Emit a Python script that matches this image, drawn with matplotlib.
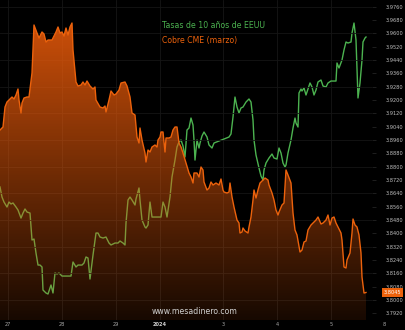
import numpy as np
import matplotlib.pyplot as plt
from matplotlib.transforms import blended_transform_factory

# Cobre CME (marzo), USD/lb  -- posicion en barras intradia
barras_cobre = [0, 3, 5, 7, 9, 12, 14, 16, 18, 19, 21, 22, 24, 27, 29, 32, 34, 37, 39, 42,
                44, 46, 48, 52, 54, 56, 58, 60, 62, 64, 66, 68, 70, 72, 73, 76, 78, 81, 83, 85,
                87, 90, 93, 95, 96, 100, 103, 105, 106, 109, 111, 114, 116, 119, 121, 125, 127, 130, 132, 135,
                137, 139, 140, 142, 145, 146, 148, 150, 152, 155, 157, 158, 160, 161, 163, 165, 166, 169, 171, 173,
                175, 177, 179, 181, 183, 186, 188, 189, 191, 193, 194, 197, 199, 201, 203, 204, 207, 209, 211, 213,
                216, 219, 221, 223, 224, 227, 229, 230, 232, 234, 237, 239, 240, 242, 243, 245, 248, 249, 251, 253,
                254, 256, 258, 260, 263, 265, 268, 269, 272, 274, 276, 278, 279, 282, 284, 286, 288, 291, 293, 295,
                297, 300, 302, 304, 306, 308, 311, 314, 316, 318, 321, 323, 326, 328, 330, 332, 334, 336, 338, 341,
                342, 344, 346, 347, 350, 352, 353, 355, 357, 359, 361, 362, 364, 366]
cobre = [3.9020, 3.9038, 3.9158, 3.9188, 3.9200, 3.9218, 3.9206, 3.9230, 3.9266, 3.9200,
         3.9122, 3.9182, 3.9212, 3.9218, 3.9218, 3.9362, 3.9650, 3.9602, 3.9572, 3.9608,
         3.9596, 3.9548, 3.9560, 3.9560, 3.9584, 3.9608, 3.9638, 3.9602, 3.9608, 3.9584,
         3.9632, 3.9590, 3.9638, 3.9662, 3.9500, 3.9308, 3.9284, 3.9290, 3.9308, 3.9290,
         3.9314, 3.9284, 3.9266, 3.9278, 3.9200, 3.9158, 3.9152, 3.9164, 3.9128, 3.9200,
         3.9254, 3.9230, 3.9236, 3.9260, 3.9302, 3.9308, 3.9284, 3.9218, 3.9122, 3.9110,
         3.8978, 3.8942, 3.9032, 3.8960, 3.8882, 3.8828, 3.8900, 3.8888, 3.8918, 3.8930,
         3.8918, 3.8960, 3.8978, 3.9008, 3.9008, 3.8888, 3.8972, 3.8972, 3.8978, 3.9020,
         3.9038, 3.9038, 3.8942, 3.8918, 3.8882, 3.8822, 3.8780, 3.8762, 3.8738, 3.8702,
         3.8762, 3.8762, 3.8738, 3.8798, 3.8780, 3.8708, 3.8660, 3.8672, 3.8708, 3.8690,
         3.8702, 3.8690, 3.8726, 3.8660, 3.8648, 3.8642, 3.8648, 3.8702, 3.8618, 3.8558,
         3.8480, 3.8462, 3.8402, 3.8408, 3.8432, 3.8414, 3.8402, 3.8438, 3.8498, 3.8600,
         3.8660, 3.8612, 3.8660, 3.8702, 3.8720, 3.8732, 3.8720, 3.8690, 3.8642, 3.8600,
         3.8540, 3.8510, 3.8528, 3.8570, 3.8582, 3.8780, 3.8750, 3.8702, 3.8522, 3.8420,
         3.8390, 3.8288, 3.8300, 3.8348, 3.8354, 3.8420, 3.8450, 3.8468, 3.8480, 3.8498,
         3.8456, 3.8462, 3.8480, 3.8510, 3.8450, 3.8492, 3.8498, 3.8462, 3.8438, 3.8402,
         3.8360, 3.8198, 3.8192, 3.8240, 3.8282, 3.8402, 3.8486, 3.8450, 3.8438, 3.8390,
         3.8282, 3.8138, 3.8042, 3.8045]

# Tasas de 10 anios de EEUU, %
barras_tasas = [0, 2, 4, 7, 9, 11, 13, 16, 18, 21, 23, 25, 27, 30, 32, 34, 36, 38, 40, 42,
                43, 46, 48, 51, 53, 55, 57, 59, 62, 65, 68, 71, 73, 76, 78, 82, 84, 86, 88, 90,
                93, 96, 98, 100, 103, 106, 109, 111, 115, 118, 120, 123, 125, 126, 128, 130, 132, 135, 136, 139,
                140, 142, 145, 146, 148, 150, 152, 156, 159, 161, 163, 165, 167, 170, 172, 175, 177, 179, 181, 183,
                185, 187, 189, 191, 193, 194, 195, 197, 199, 200, 202, 204, 207, 209, 212, 214, 219, 224, 229, 231,
                233, 235, 237, 239, 241, 243, 246, 249, 251, 253, 254, 256, 259, 261, 263, 264, 266, 269, 272, 274,
                277, 279, 281, 283, 285, 286, 288, 291, 293, 295, 296, 298, 299, 301, 302, 304, 306, 307, 310, 312,
                314, 316, 318, 321, 323, 326, 328, 331, 334, 336, 337, 339, 342, 344, 346, 348, 351, 352, 354, 356,
                358, 360, 362, 363, 365, 366]
tasas = [3.9064, 3.8945, 3.8886, 3.8827, 3.8886, 3.8863, 3.8875, 3.8827, 3.8792, 3.8697,
         3.8756, 3.8804, 3.8768, 3.8756, 3.8438, 3.8449, 3.8284, 3.8142, 3.8142, 3.8119,
         3.7847, 3.7812, 3.7800, 3.7906, 3.7812, 3.8048, 3.8036, 3.8048, 3.8012, 3.8012,
         3.8012, 3.8012, 3.8178, 3.8119, 3.8142, 3.8142, 3.8166, 3.8237, 3.8225, 3.7977,
         3.8260, 3.8520, 3.8520, 3.8473, 3.8461, 3.8473, 3.8402, 3.8379, 3.8402, 3.8402,
         3.8426, 3.8402, 3.8379, 3.8638, 3.8910, 3.8945, 3.8910, 3.8851, 3.8922, 3.9052,
         3.8910, 3.8674, 3.8591, 3.8579, 3.8615, 3.8886, 3.8709, 3.8709, 3.8709, 3.8709,
         3.8886, 3.8827, 3.8709, 3.8945, 3.9182, 3.9382, 3.9536, 3.9595, 3.9619, 3.9548,
         3.9418, 3.9737, 3.9760, 3.9878, 3.9796, 3.9619, 3.9382, 3.9619, 3.9524, 3.9583,
         3.9666, 3.9713, 3.9654, 3.9560, 3.9524, 3.9583, 3.9607, 3.9630, 3.9654, 3.9690,
         3.9890, 4.0126, 4.0008, 3.9938, 3.9997, 4.0008, 4.0067, 4.0103, 4.0067, 3.9855,
         3.9619, 3.9441, 3.9288, 3.9193, 3.9146, 3.9264, 3.9347, 3.9406, 3.9453, 3.9406,
         3.9394, 3.9524, 3.9465, 3.9347, 3.9300, 3.9323, 3.9465, 3.9619, 3.9760, 3.9878,
         3.9819, 3.9772, 4.0174, 4.0221, 4.0197, 4.0233, 4.0150, 4.0185, 4.0292, 4.0245,
         4.0150, 4.0209, 4.0304, 4.0327, 4.0256, 4.0245, 4.0292, 4.0315, 4.0315, 4.0315,
         4.0528, 4.0469, 4.0563, 4.0682, 4.0776, 4.0764, 4.0776, 4.0882, 4.1000, 4.0800,
         4.0115, 4.0292, 4.0563, 4.0776, 4.0823, 4.0835]

dias = ['27', '28', '29', '2024', '3', '4', '5']
pos_dias = [8, 62, 116, 160, 223, 277, 331]

naranja = '#ec620c'
verde = '#4cb350'
gris = '#a8a8a8'

fig = plt.figure(figsize=(4.05, 3.30), dpi=100, facecolor='black')
ax = fig.add_axes([0, 10 / 330, 372 / 405, 320 / 330])
ax.set_facecolor('black')
ax.set_xlim(0, 372)
ax.set_ylim(3.7493, 4.1272)
for s in ax.spines.values():
    s.set_visible(False)
ax.set_yticks([])
ax.set_xticks(pos_dias)
ax.set_xticklabels(dias)
ax.tick_params(axis='x', length=0, pad=1.5, labelsize=3.6, labelcolor=gris)
ax.get_xticklabels()[3].set_color('#d0d0d0')
ax.get_xticklabels()[3].set_fontweight('bold')
for p in pos_dias:
    ax.axvline(p, color='#161616', lw=0.6, zorder=0)

# linea de tasas (queda debajo del area del cobre)
ax.plot(barras_tasas, tasas, color=verde, lw=1.0, zorder=2)

ax2 = ax.twinx()
ax2.set_ylim(3.788, 3.980)
for s in ax2.spines.values():
    s.set_visible(False)
for v in np.arange(3.800, 3.98, 0.016):
    ax2.axhline(v, color='#151515', lw=0.6, zorder=0)

# area con degradado
base = 3.788
poly = ax2.fill_between(barras_cobre, cobre, base, color='none', lw=0)
n = 256
alfa = np.linspace(0.93, 0.10, n)
grad = np.zeros((n, 1, 4))
grad[:, 0, 0] = 0.925
grad[:, 0, 1] = 0.36
grad[:, 0, 2] = 0.04
grad[:, 0, 3] = alfa
img = ax2.imshow(grad, extent=(0, 372, 3.788, 3.980), aspect='auto', origin='upper', zorder=3)
img.set_clip_path(poly.get_paths()[0], transform=ax2.transData)
ax2.plot(barras_cobre, cobre, color=naranja, lw=1.0, zorder=4)
ax2.set_xlim(0, 372)
ax2.set_ylim(3.788, 3.980)

ticks = np.arange(3.792, 3.9761, 0.008)
ax2.set_yticks(ticks)
ax2.set_yticklabels(['%.4f' % t for t in ticks])
ax2.tick_params(axis='y', length=3, width=0.5, color='#2a2a2a', pad=7, labelsize=3.6, labelcolor='#c0c0c0')

# etiqueta del ultimo precio
tr = blended_transform_factory(ax2.transAxes, ax2.transData)
ax2.text(1.0 + 12 / 372, cobre[-1], '%.4f' % cobre[-1], transform=tr, fontsize=3.6, color='white',
         va='center', ha='left', zorder=10,
         bbox=dict(boxstyle='square,pad=0.35', fc=naranja, ec='none'))

fig.text(384 / 405, 1 - 325 / 330, '8', fontsize=3.6, color=gris, ha='center', va='center')

# leyenda
fig.text(162 / 405, 1 - 26 / 330, 'Tasas de 10 años de EEUU', color=verde, fontsize=5.6, va='center')
fig.text(162 / 405, 1 - 40 / 330, 'Cobre CME (marzo)', color=naranja, fontsize=5.6, va='center')

fig.text(195 / 405, 1 - 312 / 330, 'www.mesadinero.com', color='#d0d0d0', fontsize=5.6,
         ha='center', va='center')

fig.savefig('out.png', dpi=100, facecolor='black')
